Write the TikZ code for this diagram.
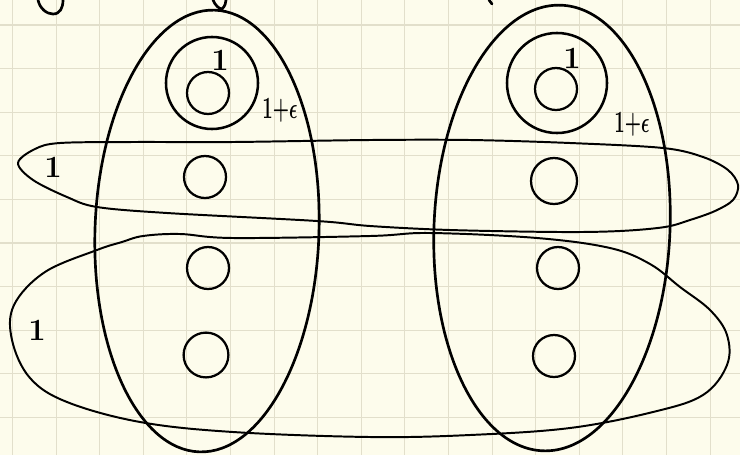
\documentclass[tikz,border=0pt]{standalone}
\usepackage{graphicx}
\definecolor{paper}{HTML}{FDFCEC}
\definecolor{gridline}{HTML}{E2DFCB}
\newcommand{\oneeps}{\scalebox{0.6}[1]{1{+}$\epsilon$}}

\begin{document}
\begin{tikzpicture}[x=0.025cm, y=-0.025cm,
  pen/.style={line width=1.9pt, line cap=round, line join=round},
  loop/.style={line width=1.4pt, line cap=round, line join=round},
  dot/.style={circle, draw, line width=1.6pt, minimum size=1.05cm, inner sep=0pt},
  ring/.style={circle, draw, line width=1.8pt, inner sep=0pt},
  lbl/.style={inner sep=0pt, font=\fontsize{22}{22}\selectfont\bfseries\boldmath}]
  \fill[paper] (0,0) rectangle (740,455);
  \useasboundingbox (0,0) rectangle (740,455);
  \foreach \i in {0,...,16}
    \draw[gridline, line width=0.8pt] ({12.5+43.6*\i},0) -- ({12.5+43.6*\i},455);
  \foreach \j in {0,...,9}
    \draw[gridline, line width=0.8pt] (0,{25+43.6*\j}) -- (740,{25+43.6*\j});

  \node[dot] (l1) at (208, 93) {};
  \node[dot] (l2) at (205,177) {};
  \node[dot] (l3) at (208,268) {};
  \node[dot, minimum size=1.12cm] (l4) at (206,355) {};
  \node[dot] (r1) at (556, 89) {};
  \node[dot, minimum size=1.15cm] (r2) at (554,181) {};
  \node[dot] (r3) at (558,268) {};
  \node[dot] (r4) at (554,356) {};

  \node[ring, minimum size=2.3cm] (lring) at (212,83) {};
  \node[ring, minimum size=2.5cm] (rring) at (557,83) {};

  \node[lbl] (lone) at (220,60) {1};
  \node[lbl] (rone) at (572,58) {1};
  \node[lbl] (leps) at (280,110) {\oneeps};
  \node[lbl] (reps) at (632,124) {\oneeps};
  \node[lbl] (topone) at (53,167) {1};
  \node[lbl] (botone) at (37,330) {1};

  \draw[pen, rotate around={-2:(207,231)}] (207,231) ellipse [x radius=112, y radius=221];
  \draw[pen, rotate around={-2.4:(552,228)}] (552,228) ellipse [x radius=118, y radius=223];

  \draw[loop] plot[smooth cycle, tension=0.55] coordinates {
    (18,163) (35,149) (60,143) (133,142) (233,142) (370,140) (470,140)
    (570,143) (663,148) (703,157) (728,170) (738,185) (733,200) (715,211)
    (690,220) (665,227) (620,231) (560,232) (450,230) (370,226) (317,221)
    (167,213) (97,207) (67,197) (33,180)};
  \draw[loop] plot[smooth cycle, tension=0.6] coordinates {
    (122,242) (143,236) (180,234) (233,238) (370,236) (430,233) (537,238)
    (610,248) (650,264) (680,287) (710,310) (727,335) (727,365)
    (703,395) (653,412) (570,428) (470,435) (370,437) (233,432) (140,422)
    (67,402) (30,378) (12,340) (14,305) (45,272) (97,250)};

  \draw[pen] (38,0) .. controls (40,9) and (47,14) .. (53,14)
    .. controls (60,14) and (63,8) .. (63,0);
  \draw[pen] (213,0) .. controls (215,5) and (219,9) .. (222,9)
    .. controls (225,6) and (226,3) .. (226,0);
  \draw[pen] (489,0) -- (492,4);
\end{tikzpicture}
\end{document}
